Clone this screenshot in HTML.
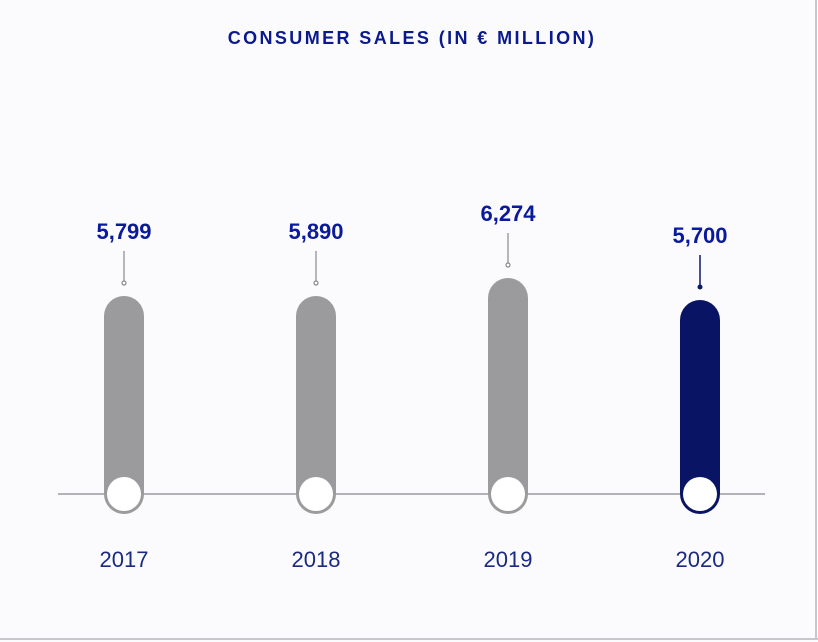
<!DOCTYPE html>
<html><head><style>
body{margin:0;background:#fff}
</style></head><body>
<svg width="818" height="642" xmlns="http://www.w3.org/2000/svg" style="display:block">
<rect width="818" height="642" fill="#fbfbfd"/>
<line x1="816" y1="0" x2="816" y2="640" stroke="#c8c8cc" stroke-width="2"/>
<line x1="0" y1="639" x2="818" y2="639" stroke="#c8c8cc" stroke-width="2"/>
<text x="412" y="44" text-anchor="middle" font-family="Liberation Sans,sans-serif" font-weight="bold" font-size="18" fill="#0a1a8c" letter-spacing="2.4">CONSUMER SALES (IN € MILLION)</text>
<line x1="58" y1="494" x2="765" y2="494" stroke="#8a8a90" stroke-width="1.2"/>
<g font-family="Liberation Sans,sans-serif" font-weight="bold" font-size="22" fill="#0a1a9a" text-anchor="middle">
<text x="124" y="239">5,799</text>
<text x="316" y="239">5,890</text>
<text x="508" y="221">6,274</text>
<text x="700" y="243">5,700</text>
</g>
<g stroke="#888" stroke-width="1.2" fill="#fff">
<line x1="124" y1="251" x2="124" y2="281"/><circle cx="124" cy="283" r="2"/>
<line x1="316" y1="251" x2="316" y2="281"/><circle cx="316" cy="283" r="2"/>
<line x1="508" y1="233" x2="508" y2="263"/><circle cx="508" cy="265" r="2"/>
</g>
<line x1="700" y1="255" x2="700" y2="285" stroke="#0a1a6a" stroke-width="1.5"/><circle cx="700" cy="287" r="2.5" fill="#0a1a6a"/>
<g fill="#9b9b9d">
<rect x="104" y="296" width="40" height="218" rx="20"/>
<rect x="296" y="296" width="40" height="218" rx="20"/>
<rect x="488" y="278" width="40" height="236" rx="20"/>
</g>
<rect x="680" y="300" width="40" height="214" rx="20" fill="#0a1464"/>
<g fill="#fff">
<circle cx="124" cy="494" r="17"/><circle cx="316" cy="494" r="17"/><circle cx="508" cy="494" r="17"/><circle cx="700" cy="494" r="17"/>
</g>
<g font-family="Liberation Sans,sans-serif" font-size="22" fill="#1a2a80" text-anchor="middle">
<text x="124" y="567">2017</text><text x="316" y="567">2018</text><text x="508" y="567">2019</text><text x="700" y="567">2020</text>
</g>
</svg>
</body></html>
